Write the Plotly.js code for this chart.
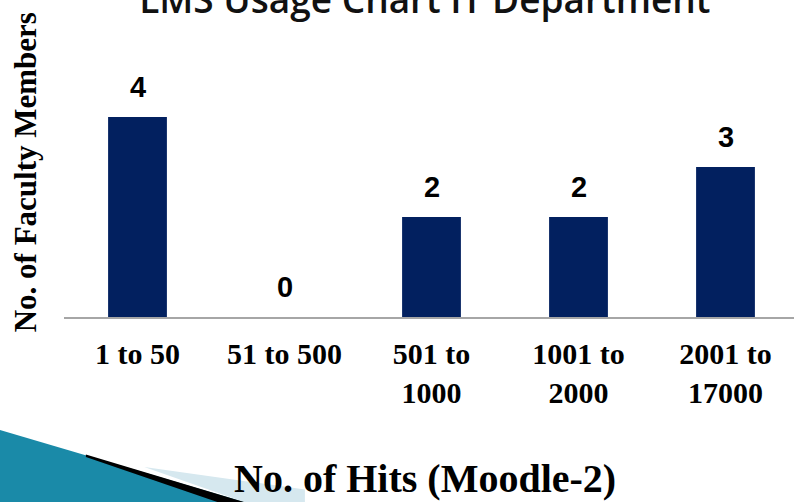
<!DOCTYPE html>
<html><head><meta charset="utf-8">
<script src="https://cdn.plot.ly/plotly-3.0.1.min.js"></script>
<style>html,body{margin:0;padding:0;background:#fff;}#chart{width:794px;height:502px;}</style>
</head><body><div id="chart"></div>
<script>
const categories = ["1 to 50", "51 to 500", "501 to<br>1000", "1001 to<br>2000", "2001 to<br>17000"];
const facultyCounts = [4, 0, 2, 2, 3];
const chartTitle = "LMS Usage Chart IT Department";
const xTitle = "No. of Hits (Moodle-2)";
const yTitle = "No. of Faculty Members";

const serif = "Liberation Serif, Times New Roman, serif";
const sans = "Liberation Sans, Arial, sans-serif";
const valueLabels = categories.map((c, i) => ({
  x: c, y: facultyCounts[i], xref: 'x', yref: 'y',
  text: String(facultyCounts[i]), showarrow: false,
  yanchor: 'middle', yshift: 30,
  font: {family: sans, size: 29, color: '#000', weight: 700}
}));

const trace = {
  type: 'bar', x: categories, y: facultyCounts,
  marker: {color: '#02205f'}, width: 0.4, hoverinfo: 'none'
};

const layout = {
  width: 794, height: 502,
  margin: {l: 64, r: 0, t: 67, b: 185},
  paper_bgcolor: '#fff', plot_bgcolor: '#fff',
  showlegend: false,
  title: {text: chartTitle, x: 0.535, xanchor: 'center', y: 1.0, yanchor: 'middle', yref: 'container',
          font: {family: 'Open Sans, DejaVu Sans, sans-serif', size: 37, color: '#111', weight: 600}},
  xaxis: {type: 'category', range: [-0.5, 4.466], showgrid: false, zeroline: false,
          showline: true, linecolor: '#a6a6a6', linewidth: 2, ticks: '',
          tickfont: {family: serif, size: 30, color: '#000', weight: 700},
          ticklabelstandoff: 9},
  yaxis: {range: [0, 5], showgrid: false, zeroline: false, showline: false,
          showticklabels: false, ticks: ''},
  annotations: valueLabels.concat([
    {text: yTitle, xref: 'paper', yref: 'paper', x: -0.053, y: 0.58, textangle: -90,
     showarrow: false, xanchor: 'center', yanchor: 'middle',
     font: {family: serif, size: 31, color: '#000', weight: 700}},
    {text: xTitle, xref: 'paper', yref: 'paper', x: 0.495, y: -0.645,
     showarrow: false, xanchor: 'center', yanchor: 'middle',
     font: {family: serif, size: 40, color: '#000', weight: 700}}
  ]),
  shapes: [
    {type: 'path', xref: 'paper', yref: 'paper', layer: 'below',
     path: 'M -0.0877,-0.452 L 0.2466,-0.74 L -0.0877,-0.74 Z',
     fillcolor: '#1a8aa8', line: {width: 0}},
    {type: 'path', xref: 'paper', yref: 'paper', layer: 'below',
     path: 'M 0.11,-0.6 L 0.33,-0.69 L 0.33,-0.74 L 0.2466,-0.74 Z',
     fillcolor: '#d6e8ef', line: {width: 0}},
    {type: 'path', xref: 'paper', yref: 'paper', layer: 'below',
     path: 'M 0.03,-0.55 L 0.2466,-0.74 L 0.21,-0.74 L 0.03,-0.56 Z',
     fillcolor: '#000', line: {width: 0}}
  ]
};
Plotly.newPlot('chart', [trace], layout, {displayModeBar: false, staticPlot: true});
</script></body></html>
